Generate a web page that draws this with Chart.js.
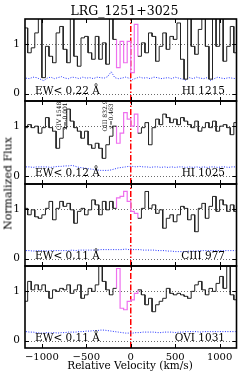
<!DOCTYPE html>
<html><head><meta charset="utf-8">
<script src="https://cdn.jsdelivr.net/npm/chart.js@4.4.1/dist/chart.umd.min.js"></script>
<style>
html,body{margin:0;padding:0;background:#fff;}
#wrap{position:relative;width:249px;height:374px;overflow:hidden;font-family:"DejaVu Serif",serif;color:#000;}
#wrap canvas{position:absolute;left:0;}
.t{position:absolute;white-space:nowrap;line-height:1;}
</style></head><body><div id="wrap"></div>
<script>
// ---------------- data ----------------
const velocity = [-1180,-1140,-1100,-1060,-1020,-980,-940,-900,-860,-820,-780,-740,-700,-660,-620,-580,-540,-500,-460,-420,-380,-340,-300,-260,-220,-180,-140,-100,-60,-20,20,60,100,140,180,220,260,300,340,380,420,460,500,540,580,620,660,700,740,780,820,860,900,940,980,1020,1060,1100,1140,1180];

const fluxHI1215 = [1.32,0.82,0.92,1.22,1.6,0.32,0.95,0.75,0.62,1.22,1.35,0.89,0.62,1.6,0.75,0.55,1.12,1.15,0.82,0.69,1.15,0.69,1.02,0.59,1.6,1.09,0.52,1.05,0.62,1.05,0.42,1.39,0.75,1.02,0.82,1.22,1.15,0.65,0.95,1.22,0.89,1.15,1.09,1.42,0.69,0.29,1.6,0.95,0.79,1.29,1.6,0.95,0.29,1.6,0.95,1.6,0.65,0.95,1.35,0.82];
const errHI1215 = [0.31,0.30,0.33,0.32,0.29,0.26,0.31,0.33,0.30,0.32,0.34,0.31,0.30,0.33,0.32,0.30,0.33,0.31,0.32,0.30,0.33,0.32,0.31,0.34,0.44,0.32,0.30,0.31,0.33,0.31,0.28,0.31,0.33,0.31,0.32,0.30,0.33,0.32,0.30,0.31,0.32,0.30,0.33,0.31,0.29,0.27,0.32,0.30,0.33,0.31,0.30,0.32,0.26,0.30,0.33,0.31,0.30,0.32,0.31,0.30];

const fluxHI1025 = [0.97,1.03,0.97,1.0,0.86,0.97,1.17,0.97,0.90,0.56,0.76,0.97,1.34,1.10,0.97,0.90,0.76,0.90,0.63,0.56,0.66,0.56,0.36,0.63,0.80,1.0,0.66,0.86,1.27,1.14,1.0,1.24,0.86,0.97,1.07,0.63,0.97,1.14,1.03,1.24,1.17,1.07,1.14,1.03,1.17,1.10,1.03,0.97,1.10,0.90,0.97,1.07,0.97,1.10,0.90,1.0,1.03,0.97,0.83,1.07];
const errHI1025 = [0.19,0.19,0.18,0.19,0.19,0.19,0.19,0.18,0.19,0.20,0.20,0.21,0.21,0.22,0.20,0.18,0.17,0.16,0.15,0.14,0.13,0.12,0.12,0.12,0.13,0.15,0.17,0.18,0.19,0.20,0.20,0.19,0.20,0.19,0.19,0.18,0.19,0.19,0.18,0.19,0.18,0.19,0.18,0.19,0.19,0.18,0.19,0.18,0.19,0.18,0.19,0.18,0.19,0.19,0.18,0.19,0.19,0.18,0.19,0.19];

const fluxCIII977 = [1.01,0.88,0.98,0.84,0.81,0.88,1.01,1.15,0.78,1.01,1.15,1.05,1.11,0.98,0.71,0.95,1.01,0.88,0.98,1.18,1.08,0.88,1.15,0.98,1.15,1.01,1.22,1.25,1.35,1.15,0.95,0.91,0.81,1.01,1.35,1.01,1.08,0.91,0.98,0.61,0.81,0.88,0.74,0.88,1.05,1.01,0.78,0.88,0.54,1.01,1.11,0.81,1.05,1.25,0.95,1.18,1.08,0.95,1.08,0.95];
const errCIII977 = [0.16,0.16,0.15,0.16,0.16,0.16,0.15,0.16,0.16,0.16,0.16,0.16,0.16,0.17,0.16,0.17,0.17,0.17,0.17,0.17,0.17,0.18,0.18,0.18,0.18,0.18,0.18,0.18,0.19,0.18,0.18,0.18,0.18,0.17,0.17,0.17,0.17,0.16,0.16,0.16,0.15,0.15,0.14,0.14,0.14,0.14,0.15,0.15,0.15,0.16,0.16,0.16,0.16,0.16,0.16,0.16,0.16,0.16,0.16,0.16];

const fluxOVI1031 = [0.79,1.19,1.02,1.12,1.02,1.12,0.99,0.85,1.02,0.99,1.05,1.02,1.12,0.95,1.02,1.12,0.85,0.92,1.05,0.99,1.12,1.6,1.19,1.02,0.92,1.05,1.45,0.65,0.62,0.79,0.82,0.95,1.02,0.92,0.72,0.85,0.58,0.72,0.79,0.85,1.05,0.95,0.92,0.95,0.92,0.89,0.85,0.99,1.12,1.19,1.02,0.92,1.05,0.99,1.15,1.29,1.05,1.6,0.92,0.82];
const errOVI1031 = [0.18,0.17,0.17,0.16,0.15,0.15,0.16,0.15,0.16,0.15,0.16,0.16,0.17,0.17,0.17,0.18,0.18,0.19,0.19,0.20,0.20,0.21,0.21,0.20,0.19,0.18,0.17,0.16,0.15,0.15,0.15,0.16,0.16,0.17,0.17,0.17,0.17,0.16,0.16,0.17,0.17,0.17,0.16,0.17,0.17,0.18,0.18,0.18,0.18,0.17,0.18,0.18,0.18,0.18,0.18,0.18,0.18,0.18,0.18,0.18];

const lineNames = ["HI 1215","HI 1025","CIII 977","OVI 1031"];
const ewLimits = ["0.22","0.12","0.11","0.11"];
const fluxes = [fluxHI1215, fluxHI1025, fluxCIII977, fluxOVI1031];
const errors = [errHI1215, errHI1025, errCIII977, errOVI1031];
const highlightFirst = 26, highlightLast = 31;   // bin indices of the fitted component
const xTicks = [-1000,-500,0,500,1000];
const yTicks = [0,1];
const xRange = [-1190,1190];
const yRange = [-0.15,1.5];
const title = "LRG_1251+3025";
const xTitle = "Relative Velocity (km/s)";
const yTitle = "Normalized Flux";
const lineIds = [ {lines:["CIV 1548","z=-0.001"], v:-770}, {lines:["OIII 832.9","z=0.463"], v:-260} ];

// ---------------- layout ----------------
const W = 249, H = 374;
const plotLeft = 25, plotRight = 236.5;
const panelTops = [19, 101, 184, 266, 348];
const FONT = '"DejaVu Serif", serif';
const wrap = document.getElementById('wrap');

const n = velocity.length;
const edges = velocity.map((v,i)=> i===0 ? v-(velocity[1]-velocity[0])/2 : (velocity[i-1]+v)/2);
edges.push(velocity[n-1] + (velocity[n-1]-velocity[n-2])/2);
function stepPts(vals,a,b){ const p=[]; for(let k=a;k<=b;k++){ p.push({x:edges[k],y:vals[k]},{x:edges[k+1],y:vals[k]}); } return p; }
function noPad(s){ s.paddingTop=0; s.paddingBottom=0; s.paddingLeft=0; s.paddingRight=0; }

const framePlugin = {
  id:'frame',
  beforeDatasetsDraw(chart){
    const {ctx, chartArea:a, scales:{y}} = chart;
    ctx.save();
    ctx.strokeStyle='#444'; ctx.lineWidth=0.8; ctx.setLineDash([1,2]);
    yTicks.forEach(v=>{ const py=Math.round(y.getPixelForValue(v))+0.5; ctx.beginPath(); ctx.moveTo(a.left,py); ctx.lineTo(a.right,py); ctx.stroke(); });
    ctx.restore();
  },
  afterDatasetsDraw(chart){
    const {ctx, chartArea:a, scales:{x,y}} = chart;
    ctx.save();
    ctx.setLineDash([]);
    ctx.strokeStyle='#000'; ctx.lineWidth=1;
    ctx.beginPath();
    xTicks.forEach(v=>{ const px=Math.round(x.getPixelForValue(v))+0.5; ctx.moveTo(px,a.top); ctx.lineTo(px,a.top+4); ctx.moveTo(px,a.bottom); ctx.lineTo(px,a.bottom-4); });
    yTicks.forEach(v=>{ const py=Math.round(y.getPixelForValue(v))+0.5; ctx.moveTo(a.left,py); ctx.lineTo(a.left+4,py); ctx.moveTo(a.right,py); ctx.lineTo(a.right-4,py); });
    ctx.stroke();
    ctx.lineWidth=1.6;
    ctx.strokeRect(a.left,a.top,a.right-a.left,a.bottom-a.top);
    ctx.restore();
  }
};

function makePanel(i){
  const top = panelTops[i], bot = panelTops[i+1];
  const last = i===3;
  const cTop = top-3;
  const cH = last ? (H-cTop) : (bot-top+6);
  const cv = document.createElement('canvas');
  cv.width=W; cv.height=cH; cv.style.width=W+'px'; cv.style.height=cH+'px'; cv.style.top=cTop+'px';
  wrap.appendChild(cv);
  const f = fluxes[i];
  const black = stepPts(f,0,highlightFirst-1).concat([{x:edges[highlightFirst],y:null}], stepPts(f,highlightLast+1,n-1));
  const mag = [{x:edges[highlightFirst],y:f[highlightFirst-1]}].concat(stepPts(f,highlightFirst,highlightLast),[{x:edges[highlightLast+1],y:f[highlightLast+1]}]);
  const err = velocity.map((v,k)=>({x:v,y:errors[i][k]}));
  const xScale = {type:'linear',min:xRange[0],max:xRange[1],display:last,
           grid:{display:false,drawTicks:false},border:{display:false},
           afterBuildTicks:s=>{ s.ticks = xTicks.map(v=>({value:v})); },
           afterFit:s=>{ noPad(s); if(last) s.height = H-panelTops[4]; },
           ticks:{padding:3,color:'#000',font:{family:FONT,size:10},maxRotation:0,autoSkip:false,
                  callback:v=>String(v).replace('-','\u2212')}};
  new Chart(cv,{
    type:'line',
    data:{datasets:[
      {data:black, borderColor:'#222', borderWidth:1, pointRadius:0, tension:0, spanGaps:false},
      {data:mag, borderColor:'#ee6fee', borderWidth:1.2, pointRadius:0, tension:0},
      {data:err, borderColor:'#2233ff', borderWidth:1, borderDash:[1,1.5], pointRadius:0, tension:0},
      {data:[{x:0,y:yRange[0]},{x:0,y:yRange[1]}], borderColor:'#ff0000', borderWidth:1.5, borderDash:[6,2,1.5,2], pointRadius:0}
    ]},
    options:{
      responsive:false, animation:false, devicePixelRatio:1,
      layout:{padding:{left:0,right:W-plotRight,top:3,bottom:last?0:3}},
      plugins:{legend:{display:false},tooltip:{enabled:false},title:{display:false}},
      events:[],
      scales:{
        x:xScale,
        y:{type:'linear',min:yRange[0],max:yRange[1],
           grid:{display:false,drawTicks:false},border:{display:false},
           afterBuildTicks:s=>{ s.ticks = yTicks.map(v=>({value:v})); },
           afterFit:s=>{ noPad(s); s.width = plotLeft; },
           ticks:{padding:5,color:'#000',font:{family:FONT,size:10.5}}}
      }
    },
    plugins:[framePlugin]
  });
}
for(let i=0;i<4;i++) makePanel(i);

// ---------------- text ----------------
function addText(str,x,base,fs,align){
  const d=document.createElement('div'); d.className='t'; d.textContent=str;
  d.style.fontSize=fs+'px'; d.style.top=(base-0.846*fs)+'px';
  if(align==='left') d.style.left=x+'px';
  else if(align==='right') d.style.right=(W-x)+'px';
  else { d.style.left=(x-150)+'px'; d.style.width='300px'; d.style.textAlign='center'; }
  wrap.appendChild(d); return d;
}
addText(title,124.5,15.5,12.5,'center');
addText(xTitle,130,369,10.5,'center');
const yl = document.createElement('div'); yl.className='t'; yl.textContent=yTitle;
yl.style.fontSize='11px'; yl.style.width='200px'; yl.style.textAlign='center';
yl.style.left=(8-100)+'px'; yl.style.top=(183-5.5)+'px'; yl.style.transform='rotate(-90deg)';
wrap.appendChild(yl);
for(let i=0;i<4;i++){
  addText('EW< '+ewLimits[i]+' \u00c5',35,panelTops[i]+74.5,10.5,'left');
  addText(lineNames[i],225,panelTops[i]+74.5,10.5,'right');
}
const xPix = v => plotLeft + (v-xRange[0])/(xRange[1]-xRange[0])*(plotRight-plotLeft);
lineIds.forEach(id=>{
  const d=document.createElement('div'); d.className='t';
  d.style.fontSize='6px'; d.style.lineHeight='6px'; d.style.width='40px'; d.style.textAlign='center';
  id.lines.forEach(s=>{ const l=document.createElement('div'); l.textContent=s; d.appendChild(l); });
  d.style.left=(xPix(id.v)-20)+'px'; d.style.top=(116-6)+'px'; d.style.transform='rotate(-90deg)';
  wrap.appendChild(d);
});
</script></body></html>
